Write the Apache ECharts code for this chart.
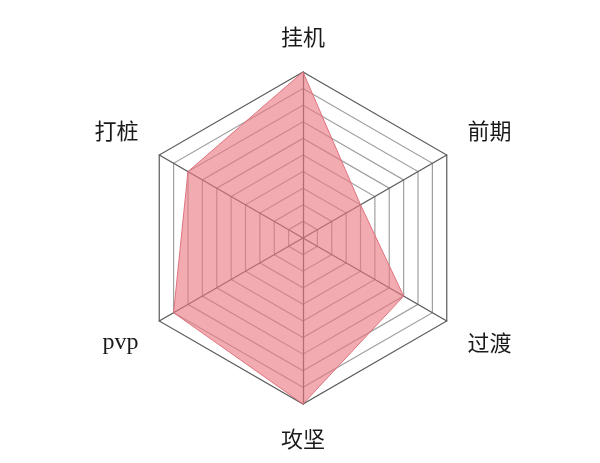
<!DOCTYPE html>
<html>
<head>
<meta charset="utf-8">
<script src="https://cdn.jsdelivr.net/npm/echarts@6/dist/echarts.min.js"></script>
<style>
    html, body { margin: 0; padding: 0; background: #fff; }
    #radar-chart { width: 600px; height: 463px; }
</style>
</head>
<body>
<div id="radar-chart"></div>
<script>
// indicators go counter-clockwise from the top
var indicatorNames = ['挂机', '打桩', 'pvp', '攻坚', '过渡', '前期'];
var indicatorMax = [10, 10, 10, 10, 10, 10];
var scores = [10, 8, 9, 10, 7, 4];

var upperNames = ['打桩', '前期'];
var lowerNames = ['pvp', '过渡'];

var radarDiv = document.getElementById('radar-chart');
var myChart = echarts.init(radarDiv);

// ring 0 is the centre point, ring 10 the outer hexagon
var ringColors = [];
for (var i = 0; i < 10; i++) {
    ringColors.push('#a0a0a0');
}
ringColors.push('#5a5a5a');

var option = {
    backgroundColor: '#fff',
    animation: false,
    radar: {
        shape: 'polygon',
        center: ['50.5%', '51.4%'],
        radius: 166,
        splitNumber: 10,
        indicator: indicatorNames.map(function (name, idx) {
            return { name: name, max: indicatorMax[idx] };
        }),
        nameGap: 24,
        axisName: {
            color: '#1a1a1a',
            fontSize: 22,
            fontFamily: 'Noto Sans CJK SC',
            formatter: function (name) {
                if (name === 'pvp') {
                    return '{serif|pvp}';
                }
                if (upperNames.indexOf(name) >= 0) {
                    return '{up|' + name + '}';
                }
                if (lowerNames.indexOf(name) >= 0) {
                    return '{low|' + name + '}';
                }
                return name;
            },
            rich: {
                up: {
                    fontSize: 22,
                    fontFamily: 'Noto Sans CJK SC',
                    color: '#1a1a1a',
                    padding: [0, 0, 24, 0]
                },
                low: {
                    fontSize: 22,
                    fontFamily: 'Noto Sans CJK SC',
                    color: '#1a1a1a',
                    padding: [20, 0, 0, 0]
                },
                serif: {
                    fontSize: 24,
                    fontFamily: 'Liberation Serif',
                    color: '#1a1a1a',
                    padding: [20, 0, 0, 0]
                }
            }
        },
        axisLine: {
            lineStyle: { color: '#5a5a5a', width: 1.3 }
        },
        splitLine: {
            lineStyle: { color: ringColors, width: 1.2 }
        },
        splitArea: { show: false }
    },
    series: [{
        type: 'radar',
        symbol: 'none',
        lineStyle: { color: '#d9707a', width: 1 },
        areaStyle: { color: 'rgb(235, 120, 130)', opacity: 0.62 },
        data: [{ value: scores, name: '评分' }]
    }]
};

myChart.setOption(option);
</script>
</body>
</html>
